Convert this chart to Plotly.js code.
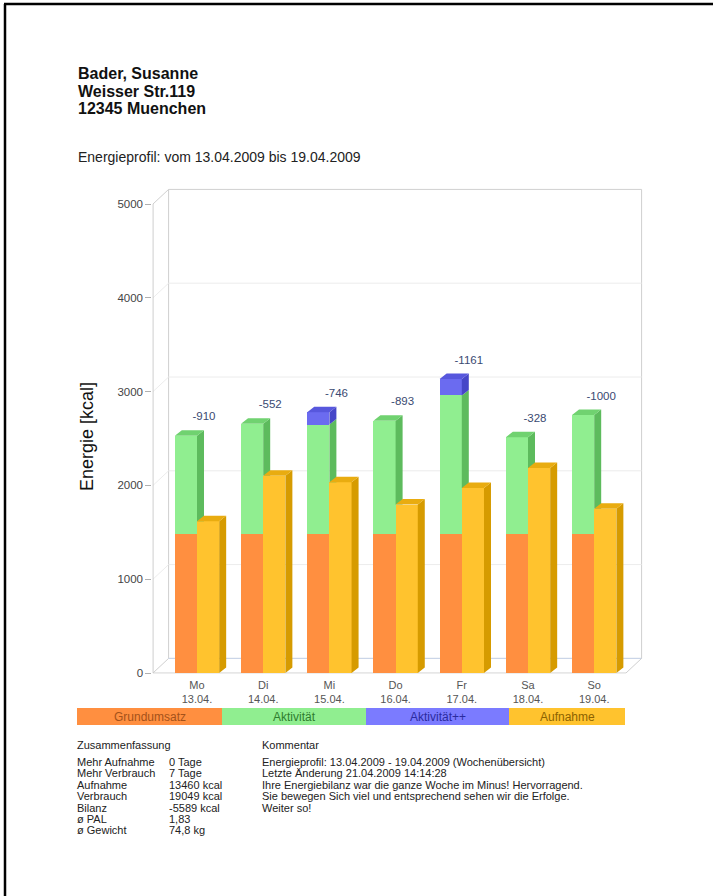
<!DOCTYPE html>
<html><head><meta charset="utf-8">
<script src="https://cdn.plot.ly/plotly-3.0.1.min.js"></script>
<style>html,body{margin:0;padding:0;background:#fff;} #chart{width:713px;height:896px;}</style>
</head><body><div id="chart"></div>
<script>
// ---------- data ----------
const days = ['Mo','Di','Mi','Do','Fr','Sa','So'];
const dates = ['13.04.','14.04.','15.04.','16.04.','17.04.','18.04.','19.04.'];
const grundumsatz = [1480,1480,1480,1480,1480,1480,1480];
const aktivitaet = [1048,1176,1169,1209,1479,1034,1270];
const aktivitaetPlus = [0,0,130,0,175,0,0];
const aufnahme = [1618,2104,2033,1796,1973,2186,1750];
const bilanz = [-910,-552,-746,-893,-1161,-328,-1000];
const yTicks = [0,1000,2000,3000,4000,5000];
const seriesNames = ['Grundumsatz','Aktivität','Aktivität++','Aufnahme'];
const headerLines = ['Bader, Susanne','Weisser Str.119','12345 Muenchen'];
const subtitle = 'Energieprofil: vom 13.04.2009 bis 19.04.2009';
const yTitle = 'Energie [kcal]';
const summaryTitle = 'Zusammenfassung';
const summaryLabels = ['Mehr Aufnahme','Mehr Verbrauch','Aufnahme','Verbrauch','Bilanz','ø PAL','ø Gewicht'];
const summaryValues = ['0 Tage','7 Tage','13460 kcal','19049 kcal','-5589 kcal','1,83','74,8 kg'];
const commentTitle = 'Kommentar';
const commentLines = [
  'Energieprofil: 13.04.2009 - 19.04.2009 (Wochenübersicht)',
  'Letzte Änderung 21.04.2009 14:14:28',
  'Ihre Energiebilanz war die ganze Woche im Minus! Hervorragend.',
  'Sie bewegen Sich viel und entsprechend sehen wir die Erfolge.',
  'Weiter so!'
];

// ---------- styles / geometry ----------
const W = 713, H = 896;
const PX0 = 197, PXU = 66.2;      // pixel of category 0, px per category
const PY0 = 673, PYK = 0.0938;    // pixel of 0 kcal, px per kcal
const FL = (153 - PX0) / PXU, FR = (626 - PX0) / PXU;
const xRange = [FL - 0.01, FR + 0.2356 + 0.02];
const yRange = [-8, 5000 + 156 + 12];
const px = u => PX0 + u * PXU, py = v => PY0 - v * PYK;
const dxB = 15.6 / PXU, dyB = 14.6 / PYK;   // box depth
const ddx = 7 / PXU, ddy = 5.5 / PYK;       // bar depth
const BW = 0.335;
const C = {
  orange: '#FF8F40', orangeSide: '#D96A1F',
  green: '#90EE90', greenSide: '#5DBB5D', greenTop: '#70D270',
  blue: '#6B6BF0', blueSide: '#4646C8', blueTop: '#5757DD',
  yellow: '#FFC32E', yellowSide: '#D69B00', yellowTop: '#E9AC10'
};
const FONT = 'Liberation Sans, Arial, Helvetica, sans-serif';

function clipAbove(poly, a) {
  const out = [];
  for (let k = 0; k < poly.length; k++) {
    const p = poly[k], q = poly[(k + 1) % poly.length];
    const pin = p[1] >= a, qin = q[1] >= a;
    if (pin) out.push(p);
    if (pin !== qin) {
      const t = (a - p[1]) / (q[1] - p[1]);
      out.push([p[0] + t * (q[0] - p[0]), a]);
    }
  }
  return out;
}
function polyTrace(polys, color) {
  const x = [], y = [];
  polys.forEach(pl => { if (pl.length < 3) return; pl.forEach(p => { x.push(p[0]); y.push(p[1]); }); x.push(pl[0][0]); y.push(pl[0][1]); x.push(null); y.push(null); });
  return {type:'scatter', mode:'lines', x, y, fill:'toself', fillcolor:color, line:{width:0, color:color}, hoverinfo:'skip', showlegend:false};
}
const side = (xr, y0, y1) => [[xr, y0], [xr + ddx, y0 + ddy], [xr + ddx, y1 + ddy], [xr, y1]];
const topF = (xl, xr, y) => [[xl, y], [xl + ddx, y + ddy], [xr + ddx, y + ddy], [xr, y]];

const idx = days.map((d, i) => i);
const xStack = idx.map(i => i - BW / 2), xAuf = idx.map(i => i + BW / 2);

const traces = [
  {type:'bar', name:seriesNames[0], x:xStack, y:grundumsatz, width:BW, marker:{color:C.orange, line:{width:0}}},
  {type:'bar', name:seriesNames[1], x:xStack, y:aktivitaet, width:BW, marker:{color:C.green, line:{width:0}}},
  {type:'bar', name:seriesNames[2], x:xStack, y:aktivitaetPlus, width:BW, marker:{color:C.blue, line:{width:0}}},
  {type:'bar', name:seriesNames[3], x:xAuf, y:aufnahme, width:BW, marker:{color:C.yellow, line:{width:0}}}
];

// 3D faces
const oS = [], gS = [], gT = [], bS = [], bT = [], ySd = [], yT = [];
idx.forEach(i => {
  const xl = i - BW, xr = i;
  const g = grundumsatz[i], a = g + aktivitaet[i], t = a + aktivitaetPlus[i];
  const auf = aufnahme[i];
  oS.push(clipAbove(side(xr, 0, g), auf));
  gS.push(clipAbove(side(xr, g, a), auf));
  if (aktivitaetPlus[i] > 0) { bS.push(clipAbove(side(xr, a, t), auf)); bT.push(topF(xl, xr, t)); }
  else gT.push(topF(xl, xr, a));
  ySd.push(side(i + BW, 0, auf));
  yT.push(topF(i, i + BW, auf));
});
traces.push(polyTrace(oS, C.orangeSide), polyTrace(gS, C.greenSide), polyTrace(gT, C.greenTop),
  polyTrace(bS, C.blueSide), polyTrace(bT, C.blueTop), polyTrace(ySd, C.yellowSide), polyTrace(yT, C.yellowTop));

traces.push({type:'scatter', mode:'text', x: idx.map(i => i + 0.106),
  y: idx.map(i => grundumsatz[i] + aktivitaet[i] + aktivitaetPlus[i] + 195),
  text: bilanz.map(String), textposition:'middle center',
  textfont:{family:FONT, size:11.5, color:'#3a4a72'}, hoverinfo:'skip', showlegend:false, cliponaxis:false});

// frame shapes
const shapes = [];
const L = (x0, y0, x1, y1, color, w) => shapes.push({type:'line', xref:'x', yref:'y', x0, y0, x1, y1, layer:'below', line:{color, width:w || 1}});
shapes.push({type:'rect', xref:'x', yref:'y', x0:FL + dxB, x1:FR + dxB, y0:dyB, y1:5000 + dyB, layer:'below', fillcolor:'#ffffff', line:{color:'#cfcfcf', width:1}});
yTicks.slice(1, -1).forEach(t => L(FL + dxB, t + dyB, FR + dxB, t + dyB, '#ececec'));
yTicks.slice(1, -1).forEach(t => L(FL, t, FL + dxB, t + dyB, '#ececec'));
L(FL, 5000, FL + dxB, 5000 + dyB, '#cfcfcf');
L(FL, 0, FL + dxB, dyB, '#cfcfcf');
L(FL + dxB, dyB, FR + dxB, dyB, '#c9d5ea');
L(FL, 0, FL, 5000, '#c4c4c4');
L(FL, 0, FR, 0, '#cfcfcf');
L(FR, 0, FR + dxB, dyB, '#cfcfcf');

// page border (top and left)
shapes.push({type:'line', xref:'paper', yref:'paper', x0:4/W, x1:1, y0:1 - 4/H, y1:1 - 4/H, line:{color:'#000', width:2.5}});
shapes.push({type:'line', xref:'paper', yref:'paper', x0:5/W, x1:5/W, y0:1 - 4/H, y1:0, line:{color:'#000', width:2.5}});

// legend strip
const legEdges = [77, 222, 366, 509, 625];
const legColors = [C.orange, C.green, '#7B7BFF', C.yellow];
const legText = ['#A4521A', '#2E7D2E', '#2B2B9E', '#8C6200'];
const annotations = [];
const A = (text, x, y, size, o) => annotations.push(Object.assign({text, xref:'paper', yref:'paper', x:x / W, y:1 - y / H, xanchor:'left', yanchor:'middle', showarrow:false, borderpad:0, font:{family:FONT, size, color:'#111'}}, o || {}));
seriesNames.forEach((n, k) => {
  shapes.push({type:'rect', xref:'paper', yref:'paper', x0:legEdges[k] / W, x1:legEdges[k + 1] / W, y0:1 - 725 / H, y1:1 - 708 / H, fillcolor:legColors[k], line:{width:0}});
  A(n, (legEdges[k] + legEdges[k + 1]) / 2, 716.5, 12, {xanchor:'center', font:{family:FONT, size:12, color:legText[k]}});
});

// texts
const TXT = '#222', BS = 11, LH = 11.4;
headerLines.forEach((t, k) => A('<b>' + t + '</b>', 77, 74 + k * 17.5, 16));
A(subtitle, 77, 157, 14, {font:{family:FONT, size:14, color:TXT}});
A(yTitle, 87, 437, 18, {xanchor:'center', textangle:-90});
A(summaryTitle, 76, 745, BS, {font:{family:FONT, size:BS, color:TXT}});
A(commentTitle, 261, 745, BS, {font:{family:FONT, size:BS, color:TXT}});
summaryLabels.forEach((t, k) => {
  A(t, 76, 762 + k * LH, BS, {font:{family:FONT, size:BS, color:TXT}});
  A(summaryValues[k], 168, 762 + k * LH, BS, {font:{family:FONT, size:BS, color:TXT}});
});
commentLines.forEach((t, k) => A(t, 261, 762 + k * LH, BS, {font:{family:FONT, size:BS, color:TXT}}));

const layout = {
  width:W, height:H, margin:{l:0, r:0, t:0, b:0}, paper_bgcolor:'#fff', plot_bgcolor:'rgba(0,0,0,0)',
  barmode:'stack', bargap:0, showlegend:false, font:{family:FONT},
  xaxis:{domain:[px(xRange[0]) / W, px(xRange[1]) / W], range:xRange, tickvals:idx, ticktext:idx.map(i => days[i] + '<br>' + dates[i]),
    ticks:'', ticklabelstandoff:3, showgrid:false, zeroline:false, showline:false, tickfont:{family:FONT, size:11, color:'#555'}, fixedrange:true},
  yaxis:{domain:[1 - py(yRange[0]) / H, 1 - py(yRange[1]) / H], range:yRange, tickvals:yTicks, ticks:'outside', ticklen:6, tickcolor:'#b0b0b0',
    showgrid:false, zeroline:false, showline:false, tickfont:{family:FONT, size:11.5, color:'#444'}, fixedrange:true},
  shapes, annotations
};
Plotly.newPlot('chart', traces, layout, {staticPlot:true, displayModeBar:false});
</script></body></html>
